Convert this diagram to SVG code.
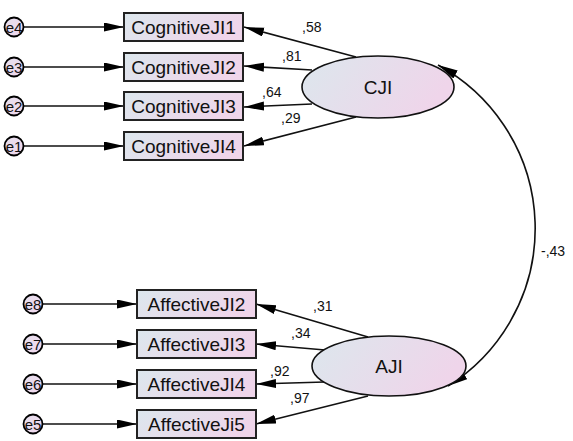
<svg xmlns="http://www.w3.org/2000/svg" width="573" height="441" viewBox="0 0 573 441">
  <style>
    .box { fill: url(#fillGrad); stroke: #222; stroke-width: 2; }
    .lat { fill: url(#fillGrad); stroke: #111; stroke-width: 1.6; }
    .err { fill: url(#errGrad); stroke: #000; stroke-width: 1.8; }
    .lbl { font-family: "Liberation Sans", Arial, sans-serif; font-size: 19px; fill: #111; text-anchor: middle; }
    .elbl { font-family: "Liberation Sans", Arial, sans-serif; font-size: 15px; fill: #111; text-anchor: middle; }
    .coef { font-family: "Liberation Sans", Arial, sans-serif; font-size: 14px; fill: #111; }
    .edge { fill: none; stroke: #111; stroke-width: 1.6; }
  </style>
  <defs>
    <linearGradient id="fillGrad" x1="0" y1="0" x2="1" y2="0.3">
      <stop offset="0" stop-color="#dce7ed"/>
      <stop offset="1" stop-color="#efd5ea"/>
    </linearGradient>
    <linearGradient id="errGrad" x1="0" y1="0" x2="1" y2="1">
      <stop offset="0" stop-color="#e6e0ee"/>
      <stop offset="1" stop-color="#f0d6ec"/>
    </linearGradient>
    <marker id="arrow" markerUnits="userSpaceOnUse" markerWidth="22" markerHeight="12" refX="20" refY="4.5" orient="auto-start-reverse">
      <path d="M0,0 L20,4.5 L0,9 z" fill="#000"/>
    </marker>
  </defs>

  <!-- connectors -->
  <g id="connectors">
    <!-- error terms to indicators -->
    <line class="edge" x1="24" y1="27" x2="124" y2="27" marker-end="url(#arrow)"/>
    <line class="edge" x1="24" y1="67" x2="124" y2="67" marker-end="url(#arrow)"/>
    <line class="edge" x1="24" y1="106" x2="124" y2="106" marker-end="url(#arrow)"/>
    <line class="edge" x1="24" y1="146" x2="124" y2="146" marker-end="url(#arrow)"/>
    <line class="edge" x1="43" y1="304" x2="137" y2="304" marker-end="url(#arrow)"/>
    <line class="edge" x1="43" y1="344" x2="137" y2="344" marker-end="url(#arrow)"/>
    <line class="edge" x1="43" y1="384" x2="137" y2="384" marker-end="url(#arrow)"/>
    <line class="edge" x1="43" y1="424" x2="137" y2="424" marker-end="url(#arrow)"/>
    <!-- CJI loadings -->
    <line class="edge" x1="356" y1="57" x2="244" y2="27" marker-end="url(#arrow)"/>
    <line class="edge" x1="312" y1="70" x2="244" y2="66" marker-end="url(#arrow)"/>
    <line class="edge" x1="312" y1="104" x2="244" y2="107" marker-end="url(#arrow)"/>
    <line class="edge" x1="356" y1="117" x2="244" y2="146" marker-end="url(#arrow)"/>
    <!-- AJI loadings -->
    <line class="edge" x1="368" y1="337" x2="256" y2="304" marker-end="url(#arrow)"/>
    <line class="edge" x1="325" y1="350" x2="256" y2="344" marker-end="url(#arrow)"/>
    <line class="edge" x1="325" y1="382" x2="256" y2="384" marker-end="url(#arrow)"/>
    <line class="edge" x1="368" y1="396" x2="256" y2="424" marker-end="url(#arrow)"/>
    <!-- covariance -->
    <path class="edge" d="M438,65 A186,186 0 0 1 448,386" marker-start="url(#arrow)" marker-end="url(#arrow)"/>
    <!-- coefficients -->
    <text class="coef" x="302" y="32">,58</text>
    <text class="coef" x="282" y="61">,81</text>
    <text class="coef" x="262" y="97">,64</text>
    <text class="coef" x="281" y="123">,29</text>
    <text class="coef" x="313" y="311">,31</text>
    <text class="coef" x="291" y="338">,34</text>
    <text class="coef" x="270" y="376">,92</text>
    <text class="coef" x="290" y="403">,97</text>
    <text class="coef" x="541" y="256">-,43</text>
  </g>

  <!-- error terms -->
  <g id="e4"><ellipse class="err" cx="14" cy="27" rx="9.5" ry="9.5"/><text class="elbl" x="14" y="32.5">e4</text></g>
  <g id="e3"><ellipse class="err" cx="14" cy="67" rx="9.5" ry="9.5"/><text class="elbl" x="14" y="72.5">e3</text></g>
  <g id="e2"><ellipse class="err" cx="14" cy="106" rx="9.5" ry="9.5"/><text class="elbl" x="14" y="111.5">e2</text></g>
  <g id="e1"><ellipse class="err" cx="14" cy="146" rx="9.5" ry="9.5"/><text class="elbl" x="14" y="151.5">e1</text></g>
  <g id="e8"><ellipse class="err" cx="33" cy="304" rx="9.5" ry="9.5"/><text class="elbl" x="33" y="309.5">e8</text></g>
  <g id="e7"><ellipse class="err" cx="33" cy="344" rx="9.5" ry="9.5"/><text class="elbl" x="33" y="349.5">e7</text></g>
  <g id="e6"><ellipse class="err" cx="33" cy="384" rx="9.5" ry="9.5"/><text class="elbl" x="33" y="389.5">e6</text></g>
  <g id="e5"><ellipse class="err" cx="33" cy="424" rx="9.5" ry="9.5"/><text class="elbl" x="33" y="429.5">e5</text></g>

  <!-- observed indicators -->
  <g id="CognitiveJI1"><rect class="box" x="124" y="13" width="119" height="28"/><text class="lbl" x="183.5" y="34">CognitiveJI1</text></g>
  <g id="CognitiveJI2"><rect class="box" x="124" y="53" width="119" height="28"/><text class="lbl" x="183.5" y="74">CognitiveJI2</text></g>
  <g id="CognitiveJI3"><rect class="box" x="124" y="92" width="119" height="28"/><text class="lbl" x="183.5" y="113">CognitiveJI3</text></g>
  <g id="CognitiveJI4"><rect class="box" x="124" y="132" width="119" height="28"/><text class="lbl" x="183.5" y="153">CognitiveJI4</text></g>
  <g id="AffectiveJI2"><rect class="box" x="137" y="290" width="119" height="28"/><text class="lbl" x="196.5" y="311">AffectiveJI2</text></g>
  <g id="AffectiveJI3"><rect class="box" x="137" y="330" width="119" height="28"/><text class="lbl" x="196.5" y="351">AffectiveJI3</text></g>
  <g id="AffectiveJI4"><rect class="box" x="137" y="370" width="119" height="28"/><text class="lbl" x="196.5" y="391">AffectiveJI4</text></g>
  <g id="AffectiveJi5"><rect class="box" x="137" y="410" width="119" height="28"/><text class="lbl" x="196.5" y="431">AffectiveJi5</text></g>

  <!-- latent factors -->
  <g id="CJI"><ellipse class="lat" cx="378" cy="87" rx="76" ry="31"/><text class="lbl" x="378" y="94">CJI</text></g>
  <g id="AJI"><ellipse class="lat" cx="389" cy="366" rx="77" ry="30"/><text class="lbl" x="389" y="373">AJI</text></g>
</svg>
